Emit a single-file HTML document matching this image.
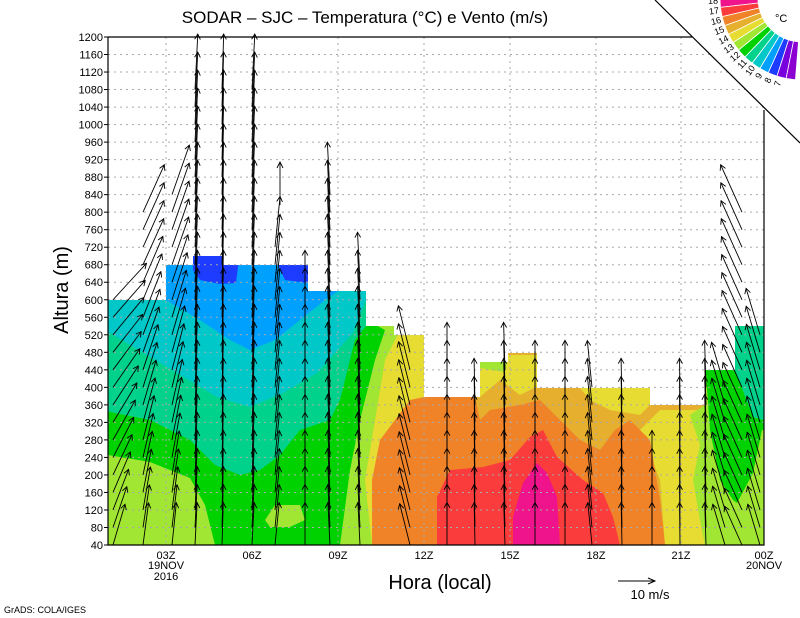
<!DOCTYPE html>
<html><head><meta charset="utf-8"><style>
html,body{margin:0;padding:0;background:#fff;width:800px;height:618px;overflow:hidden}
svg{display:block;font-family:"Liberation Sans",sans-serif}
</style></head><body>
<svg id="s" width="800" height="618" viewBox="0 0 800 618" xmlns="http://www.w3.org/2000/svg">
<defs><clipPath id="env"><path d="M108,545 L108,300 L166,300 L166,265 L193,265 L193,256 L222,256 L222,265 L308,265 L308,291 L366,291 L366,326 L394,326 L394,335 L424,335 L424,397 L480,397 L480,362 L508,362 L508,353 L537,353 L537,388 L650,388 L650,405 L705,405 L705,370 L735,370 L735,326 L764,326 L764,545 Z"/></clipPath></defs>
<g clip-path="url(#env)">
<rect x="100" y="250" width="670" height="300" fill="#e6af2d"/>
<rect x="100" y="250" width="300" height="300" fill="#a0e632"/>
<path d="M372,545 L365,480 L375,420 L385,360 L400,330 L430,330 L430,400 L405,415 L390,440 L378,480 L380,545Z" fill="#e6dc32"/>
<path d="M480,355 L540,355 L540,385 L520,395 L500,380 L480,397Z" fill="#e6dc32"/>
<path d="M480,355 L508,355 L505,372 L480,368Z" fill="#a0e632"/>
<path d="M580,388 L650,388 L650,405 L640,415 L610,410 L590,400Z" fill="#e6dc32"/>
<path d="M640,430 L660,410 L700,410 L705,545 L665,545 L660,480Z" fill="#e6dc32"/>
<path d="M650,380 L705,380 L705,405 L690,415 L700,445 L693,480 L700,520 L705,545 L770,545 L770,380Z" fill="#a0e632"/>
<path d="M705,360 L770,360 L770,430 L762,430 L753,473 L737,503 L733,500 L720,480 L710,430Z" fill="#00d200"/>
<path d="M735,320 L770,320 L770,420 L763,420 L753,417 L735,370Z" fill="#00d28c"/>
<path d="M372,545 L372,480 L380,440 L395,420 L410,400 L424,397 L475,397 L480,420 L490,410 L520,405 L540,400 L560,420 L580,440 L600,450 L615,430 L630,420 L650,440 L660,500 L665,545Z" fill="#f08228"/>
<path d="M437,545 L437,497 L450,470 L483,467 L510,460 L530,437 L543,430 L557,457 L583,480 L603,493 L613,517 L620,545Z" fill="#fa3c3c"/>
<path d="M513,545 L513,517 L523,483 L537,463 L547,473 L557,497 L560,545Z" fill="#f0148c"/>
<path d="M100,455 L108,455 L150,462 L190,478 L205,505 L215,545 L340,545 L350,470 L360,420 L375,360 L385,330 L366,320 L100,320Z" fill="#00d200"/>
<path d="M265,520 L275,505 L300,505 L305,520 L290,527 L270,527Z" fill="#a0e632"/>
<path d="M100,410 L150,420 L190,440 L215,465 L240,475 L260,470 L280,455 L300,430 L330,420 L340,400 L355,340 L366,326 L370,250 L100,250Z" fill="#00d28c"/>
<path d="M100,333 L110,333 L167,367 L217,397 L250,407 L283,393 L317,373 L353,333 L366,300 L370,250 L100,250Z" fill="#00c8c8"/>
<path d="M166,250 L166,300 L200,320 L230,340 L250,350 L275,340 L300,320 L325,300 L340,290 L330,250Z" fill="#00a0ff"/>
<path d="M193,250 L240,250 L236,283 L220,284 L200,280 L193,270Z" fill="#1e3cff"/>
<path d="M277,262 L310,262 L308,283 L285,280Z" fill="#1e3cff"/>
</g>
<g id="grid" stroke="#aaa" stroke-dasharray="2,4" stroke-width="1"></g>
<g id="arr" stroke="#000" stroke-width="0.9" fill="none"></g>
<polygon points="655,0 800,0 800,143" fill="#fff"/>
<g id="wheel"></g>
<line x1="655" y1="0" x2="800" y2="143" stroke="#000" stroke-width="1.2"/>
<polyline points="108,37 692,37" stroke="#000" stroke-width="1.2" fill="none"/>
<polyline points="764,110 764,545 108,545 108,37" stroke="#000" stroke-width="1.2" fill="none"/>
<g id="lab" font-size="11" fill="#000"></g>
<text x="365" y="23" font-size="17" text-anchor="middle">SODAR – SJC – Temperatura (°C) e Vento (m/s)</text>
<text transform="translate(68,290) rotate(-90)" font-size="20" text-anchor="middle">Altura (m)</text>
<text x="440" y="589" font-size="20" text-anchor="middle">Hora (local)</text>
<line x1="618" y1="581" x2="655" y2="581" stroke="#000"/><path d="M648,578 L655,581 L648,584" stroke="#000" fill="none"/>
<text x="650" y="599" font-size="13" text-anchor="middle">10 m/s</text>
<text x="4" y="613" font-size="9">GrADS: COLA/IGES</text>
<text x="775" y="22" font-size="11">°C</text>
</svg>
<script>
var NS="http://www.w3.org/2000/svg";
function el(p,t,a,txt){var e=document.createElementNS(NS,t);for(var k in a)e.setAttribute(k,a[k]);if(txt)e.textContent=txt;p.appendChild(e);return e;}
function Y(h){return 545-(h-40)*0.43793;}
var g=document.getElementById('grid'),lab=document.getElementById('lab');
for(var h=40;h<=1200;h+=40){var y=Y(h);if(h>40&&h<1200)el(g,'line',{x1:108,y1:y,x2:764,y2:y});
el(lab,'text',{x:103,y:y+4,'text-anchor':'end'},String(h));el(lab,'line',{x1:104,y1:y,x2:108,y2:y,stroke:'#000'});}
var xs=[166,252,338,424,510,596,681],nm=['03Z','06Z','09Z','12Z','15Z','18Z','21Z'];
xs.forEach(function(x,i){el(g,'line',{x1:x,y1:37,x2:x,y2:545});el(lab,'text',{x:x,y:559,'text-anchor':'middle'},nm[i]);});
el(lab,'text',{x:166,y:569,'text-anchor':'middle'},'19NOV');el(lab,'text',{x:166,y:580,'text-anchor':'middle'},'2016');
el(lab,'text',{x:764,y:559,'text-anchor':'middle'},'00Z');el(lab,'text',{x:764,y:569,'text-anchor':'middle'},'20NOV');
var a=document.getElementById('arr');
var cols=[[113,620,1],[143,820,.45],[172,840,.35],[195,1090,.05],[222,1090,.03],[252,1090,.05],[275,740,.1],[305,600,0],[330,870,-.05],[360,640,-.05],[410,480,-.25],[447,460,0],[475,380,-.02],[505,460,-.03],[535,400,0],[565,400,0],[592,400,-.1],[622,360,-.02],[652,220,0],[680,360,-.01],[706,420,-.03],[725,400,-.3],[742,800,-.45],[760,520,-.3]];
cols.forEach(function(c){for(var h=40;h<=c[1];h+=40){var x=c[0],y=Y(h);var L=42+(h/1200)*15;var t=c[2]*(c[0]<180?Math.min(1,0.25+h/900):1);
var dx=L*t/Math.sqrt(1+t*t),dy=-L/Math.sqrt(1+t*t);var x2=x+dx,y2=y+dy;var ang=Math.atan2(dy,dx);
el(a,'line',{x1:x,y1:y,x2:x2,y2:y2});
var hx1=x2-6*Math.cos(ang-0.5),hy1=y2-6*Math.sin(ang-0.5),hx2=x2-6*Math.cos(ang+0.5),hy2=y2-6*Math.sin(ang+0.5);
el(a,'path',{d:'M'+hx1+','+hy1+' L'+x2+','+y2+' L'+hx2+','+hy2});}});
el(a,'line',{x1:280,y1:205,x2:280,y2:162});el(a,'path',{d:'M277,168 L280,162 L283,168'});
var w=document.getElementById('wheel'),cx=802,cy=-2,R=82,r=44;
var cl=['#f0148c','#fa3c3c','#f08228','#e6af2d','#e6dc32','#a0e632','#00d200','#00d28c','#00c8c8','#00a0ff','#1e3cff','#7800dc','#8c00d2'];
var n=cl.length,a0=Math.PI,a1=Math.PI/2+0.08;
for(var i=0;i<n;i++){var s=a0-(a0-a1)*i/n,e=a0-(a0-a1)*(i+1)/n;
var p='M'+(cx+R*Math.cos(s))+','+(cy+R*Math.sin(s))+' A'+R+','+R+' 0 0 0 '+(cx+R*Math.cos(e))+','+(cy+R*Math.sin(e))+' L'+(cx+r*Math.cos(e))+','+(cy+r*Math.sin(e))+' A'+r+','+r+' 0 0 1 '+(cx+r*Math.cos(s))+','+(cy+r*Math.sin(s))+'Z';
el(w,'path',{d:p,fill:cl[i],stroke:'#fff','stroke-width':0.8});
if(i<12){var m=s-0.02,tx=cx+(R+7)*Math.cos(m),ty=cy+(R+7)*Math.sin(m);el(w,'text',{x:tx,y:ty+4,'font-size':9,'text-anchor':'middle',transform:'rotate('+((m*180/Math.PI)-180)+' '+tx+' '+ty+')'},String(18-i));}}
</script>
</body></html>
